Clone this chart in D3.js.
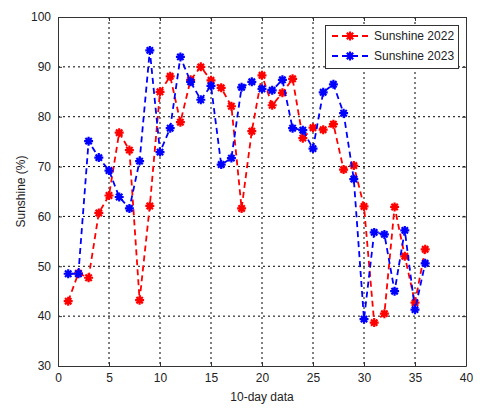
<!DOCTYPE html>
<html>
<head>
<meta charset="utf-8">
<script src="https://cdn.jsdelivr.net/npm/d3@7"></script>
<style>
  body { margin: 0; background: #fff; }
  svg text { font-family: "Liberation Sans", Arial, sans-serif; }
</style>
</head>
<body>
<svg id="chart" width="480" height="409"></svg>
<script>
var periods = d3.range(1, 37);

var sun2022 = [43.0, 48.6, 47.7, 60.7, 64.2, 76.8, 73.3, 43.2, 62.1, 85.0,
               88.1, 78.9, 87.4, 90.0, 87.3, 85.8, 82.1, 61.6, 77.1, 88.3,
               82.3, 84.8, 87.6, 75.7, 77.8, 77.4, 78.5, 69.4, 70.2, 62.0,
               38.7, 40.5, 61.9, 52.0, 42.7, 53.4];

var sun2023 = [48.5, 48.5, 75.1, 71.8, 69.2, 63.9, 61.6, 71.1, 93.3, 72.9,
               77.7, 92.0, 87.0, 83.4, 86.2, 70.4, 71.7, 85.9, 87.0, 85.6,
               85.3, 87.4, 77.7, 77.3, 73.6, 84.9, 86.5, 80.7, 67.5, 39.4,
               56.8, 56.4, 45.0, 57.2, 41.3, 50.6];

var xTicks = [0, 5, 10, 15, 20, 25, 30, 35, 40],
    yTicks = [30, 40, 50, 60, 70, 80, 90, 100];

var series = [
    {name: "Sunshine 2022", values: sun2022, color: "#ff0000"},
    {name: "Sunshine 2023", values: sun2023, color: "#0000ff"}
];

var svg = d3.select("#chart");

var pLeft = 58, pRight = 466, pTop = 17, pBottom = 366;

var x = d3.scaleLinear().domain([0, 40]).range([pLeft, pRight]),
    y = d3.scaleLinear().domain([30, 100]).range([pBottom, pTop]);

// grid
var grid = svg.append("g");
grid.selectAll(".gx")
    .data(xTicks.slice(1, -1))
    .enter().append("line")
        .attr("x1", function(d) { return x(d); })
        .attr("x2", function(d) { return x(d); })
        .attr("y1", pTop)
        .attr("y2", pBottom)
        .attr("stroke", "#000")
        .attr("stroke-width", 1)
        .attr("stroke-dasharray", "2,3");
grid.selectAll(".gy")
    .data(yTicks.slice(1, -1))
    .enter().append("line")
        .attr("x1", pLeft)
        .attr("x2", pRight)
        .attr("y1", function(d) { return y(d); })
        .attr("y2", function(d) { return y(d); })
        .attr("stroke", "#000")
        .attr("stroke-width", 1)
        .attr("stroke-dasharray", "2,3");

// axes with inward ticks
svg.append("g")
    .attr("transform", "translate(0," + pBottom + ")")
    .call(d3.axisBottom(x).tickValues(xTicks).tickSizeInner(-4).tickSizeOuter(0).tickPadding(7));
svg.append("g")
    .attr("transform", "translate(" + pLeft + ",0)")
    .call(d3.axisLeft(y).tickValues(yTicks).tickSizeInner(-4).tickSizeOuter(0).tickPadding(7));
svg.append("g")
    .attr("transform", "translate(0," + pTop + ")")
    .call(d3.axisTop(x).tickValues(xTicks).tickSizeInner(-4).tickSizeOuter(0).tickFormat(""));
svg.append("g")
    .attr("transform", "translate(" + pRight + ",0)")
    .call(d3.axisRight(y).tickValues(yTicks).tickSizeInner(-4).tickSizeOuter(0).tickFormat(""));

svg.selectAll(".domain").attr("stroke", "#333");
svg.selectAll(".tick line").attr("stroke", "#333");
svg.selectAll(".tick text")
    .attr("font-size", 12)
    .attr("fill", "#222")
    .style("font-family", "Liberation Sans, Arial, sans-serif");

// axis titles
svg.append("text")
    .attr("x", (pLeft + pRight) / 2)
    .attr("y", 401)
    .attr("text-anchor", "middle")
    .attr("font-size", 12)
    .attr("fill", "#222")
    .text("10-day data");
svg.append("text")
    .attr("transform", "translate(25," + (pTop + pBottom) / 2 + ") rotate(-90)")
    .attr("text-anchor", "middle")
    .attr("font-size", 12)
    .attr("fill", "#222")
    .text("Sunshine (%)");

// asterisk marker
function star(cx, cy, r) {
    var p = "";
    for (var a = 0; a < 4; a++) {
        var t = a * Math.PI / 4;
        p += "M" + (cx - r * Math.cos(t)) + "," + (cy - r * Math.sin(t)) +
             "L" + (cx + r * Math.cos(t)) + "," + (cy + r * Math.sin(t));
    }
    return p;
}

var line = d3.line()
    .x(function(d, i) { return x(periods[i]); })
    .y(function(d) { return y(d); });

series.forEach(function(s) {
    var g = svg.append("g");
    g.append("path")
        .attr("d", line(s.values))
        .attr("fill", "none")
        .attr("stroke", s.color)
        .attr("stroke-width", 1.8)
        .attr("stroke-dasharray", "6,4");
    g.selectAll("path.mk")
        .data(s.values)
        .enter().append("path")
            .attr("class", "mk")
            .attr("d", function(d, i) { return star(x(periods[i]), y(d), 4.5); })
            .attr("stroke", s.color)
            .attr("stroke-width", 2.2)
            .attr("fill", "none");
});

// legend
var lg = svg.append("g");
lg.append("rect")
    .attr("x", 325.5)
    .attr("y", 25.5)
    .attr("width", 133)
    .attr("height", 43)
    .attr("fill", "#fff")
    .attr("stroke", "#333");
series.forEach(function(s, i) {
    var ly = 36 + i * 20;
    lg.append("line")
        .attr("x1", 332)
        .attr("x2", 368)
        .attr("y1", ly)
        .attr("y2", ly)
        .attr("stroke", s.color)
        .attr("stroke-width", 1.8)
        .attr("stroke-dasharray", "6,4");
    lg.append("path")
        .attr("d", star(350, ly, 4.5))
        .attr("stroke", s.color)
        .attr("stroke-width", 2.2);
    lg.append("text")
        .attr("x", 374)
        .attr("y", ly + 4)
        .attr("font-size", 12)
        .attr("fill", "#222")
        .text(s.name);
});
</script>
</body>
</html>
